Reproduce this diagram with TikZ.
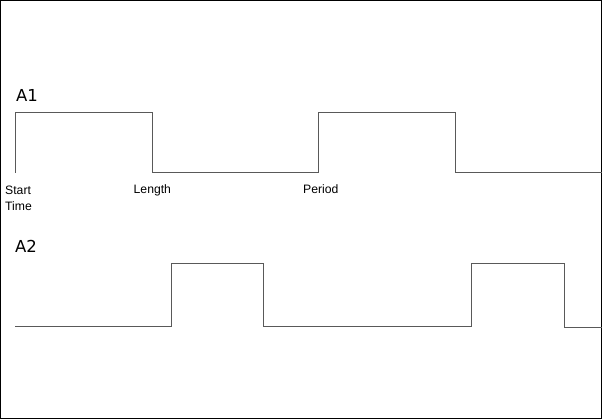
\documentclass[tikz,border=0pt]{standalone}
\usepackage{fontspec}
\setmainfont{Liberation Sans}
\newfontfamily\chanfont{DejaVu Sans}
\usetikzlibrary{positioning}

\begin{document}
\begin{tikzpicture}[x=1pt, y=-1pt,
		wave/.style={line width=1pt, color=black!65},
		chan/.style={anchor=base west, inner sep=0, font=\chanfont\fontsize{16.5}{18}\selectfont},
		tlabel/.style={anchor=base west, inner sep=0, font=\fontsize{12.2}{16}\selectfont}]
		%%%%% START %%%%%
		
		\useasboundingbox (0, 0) rectangle (602, 419);
		\draw[line width=1pt] (0.5, 0.5) rectangle (601.5, 418.5);
		
		% channel A1
		\node[chan] (a1) at (16, 102) {A1};
		\draw[wave] (15, 173) -- (15, 113) -- (152, 113) -- (152, 173) -- (318, 173) -- (318, 113) -- (455, 113) -- (455, 173) -- (602, 173);
		
		\node[tlabel, align=left, anchor=north west] (start) at (5, 186) {Start\\Time};
		\node[tlabel] (length) at (133.5, 194) {Length};
		\node[tlabel] (period) at (303, 193.5) {Period};
		
		% channel A2
		\node[chan] (a2) at (15, 253) {A2};
		\draw[wave] (15, 327) -- (171, 327) -- (171, 263.5) -- (263, 263.5) -- (263, 327) -- (471, 327) -- (471, 264) -- (564, 264) -- (564, 328) -- (602, 328);
		
		%%%%% END %%%%%
	\end{tikzpicture}
\end{document}
